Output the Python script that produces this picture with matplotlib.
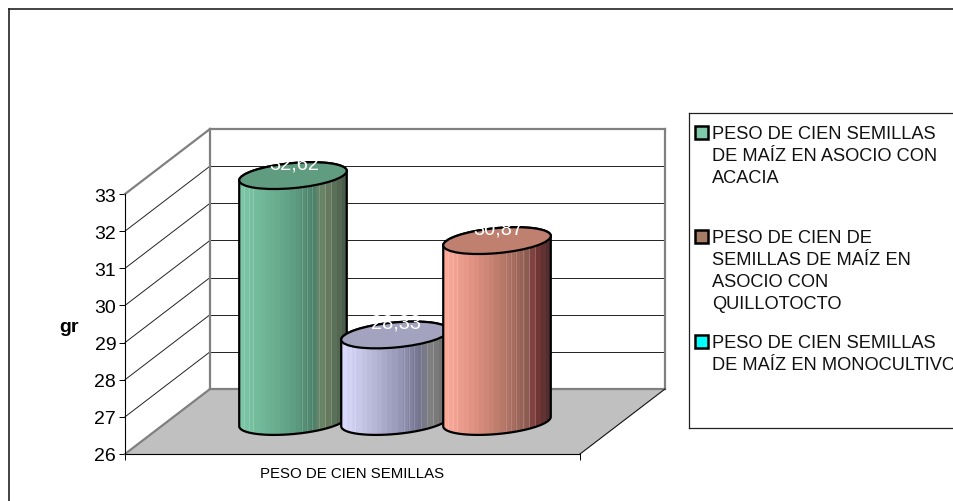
#!/usr/bin/env python3
"""Grafico 3D de cilindros: peso de cien semillas."""
import numpy as np
import matplotlib
matplotlib.use("Agg")
import matplotlib.pyplot as plt
from matplotlib.colors import LinearSegmentedColormap
from matplotlib.collections import PolyCollection
from matplotlib.lines import Line2D
from matplotlib.patches import Ellipse, PathPatch, Polygon, Rectangle
from matplotlib.path import Path
from matplotlib.transforms import IdentityTransform

plt.rcParams["font.family"] = ["Liberation Sans", "DejaVu Sans"]

category = "PESO DE CIEN SEMILLAS"
values = [32.62, 28.33, 30.87]
y_ticks = [26, 27, 28, 29, 30, 31, 32, 33]
y_label = "gr"
legend_labels = [
    "PESO DE CIEN SEMILLAS\nDE MAÍZ EN ASOCIO CON\nACACIA",
    "PESO DE CIEN DE\nSEMILLAS DE MAÍZ EN\nASOCIO CON\nQUILLOTOCTO",
    "PESO DE CIEN SEMILLAS\nDE MAÍZ EN MONOCULTIVO",
]
legend_colors = ["#7fc8a9", "#a67c67", "#00ffff"]

top_colors = ["#5f9c80", "#a3a3bf", "#bf8070"]
body_stops = [
    [(0, "#7cc9a8"), (0.25, "#6fb595"), (0.5, "#5e9e82"), (0.72, "#4a7d66"),
     (0.75, "#73896a"), (1, "#465a48")],
    [(0, "#dcdcff"), (0.3, "#b7b7d7"), (0.55, "#9595b5"), (0.72, "#73738f"),
     (0.85, "#808080"), (1, "#666666")],
    [(0, "#ffab9a"), (0.3, "#dd9080"), (0.55, "#b87868"), (0.8, "#8a5a50"),
     (0.85, "#7a3838"), (1, "#4a2c2c")],
]
light_stripes = [0.05, 0.09, 0.13, 0.58, 0.63, 0.68, 0.74, 0.8, 0.85]

W, H = 954, 502
DX, DY = 85, 65  # profundidad en px
SEMI_A, SEMI_B, TILT = 54, 12.5, 5.3
SPACING = 0.2242
N_BANDS = 21

fig = plt.figure(figsize=(W / 100, H / 100), dpi=100)
ax = fig.add_axes([125 / W, (H - 455) / H, 455 / W, 260 / H])
ax.set_xlim(0, 1)
ax.set_ylim(26, 33)
ax.patch.set_visible(False)
for side in ("top", "right"):
    ax.spines[side].set_visible(False)
for side in ("left", "bottom"):
    ax.spines[side].set_linewidth(0.8)
    ax.spines[side].set_zorder(30)
ax.set_yticks(y_ticks)
ax.set_xticks([0, 1], ["", ""])
ax.tick_params(axis="both", length=4.3, width=0.7, direction="out")
ax.tick_params(axis="y", labelsize=14, pad=2)
ax.set_xlabel(category, fontsize=10.8, labelpad=1)
ax.set_ylabel(y_label, fontsize=14, fontweight="bold", rotation=0, ha="center", va="center")
ax.yaxis.set_label_coords(-0.122, 0.492)

ident = IdentityTransform()


def proj(x, v, depth=0.0):
    px = ax.transData.transform((x, v))
    return px + depth * np.array([DX, DY])


def seg(p, q, **kw):
    ax.add_line(Line2D([p[0], q[0]], [p[1], q[1]], transform=ident, clip_on=False, **kw))


def ellipse_points(center, t):
    c, s = np.cos(np.radians(TILT)), np.sin(np.radians(TILT))
    ex, ey = SEMI_A * np.cos(t), SEMI_B * np.sin(t)
    return np.column_stack((center[0] + ex * c - ey * s, center[1] + ex * s + ey * c))


# suelo
floor = [proj(0, 26), proj(1, 26), proj(1, 26, 1), proj(0, 26, 1)]
ax.add_patch(Polygon(floor, closed=True, transform=ident, facecolor="#c0c0c0",
                     edgecolor="none", clip_on=False, zorder=1))

# rejilla en paredes
for v in y_ticks[1:-1]:
    seg(proj(0, v), proj(0, v, 1), color="#222222", lw=0.7, zorder=2)
    seg(proj(0, v, 1), proj(1, v, 1), color="#222222", lw=0.7, zorder=2)

# bordes de paredes
wall_kw = dict(color="#808080", lw=1.6, zorder=3, solid_capstyle="projecting")
seg(proj(0, 26), proj(0, 26, 1), **wall_kw)
seg(proj(0, 33), proj(0, 33, 1), **wall_kw)
seg(proj(0, 26, 1), proj(0, 33, 1), **wall_kw)
seg(proj(0, 33, 1), proj(1, 33, 1), **wall_kw)
seg(proj(1, 33, 1), proj(1, 26, 1), **wall_kw)
seg(proj(0, 26, 1), proj(1, 26, 1), **wall_kw)
seg(proj(1, 26), proj(1, 26, 1), color="#111111", lw=0.8, zorder=3)

# cilindros
for i, v in enumerate(values):
    x = 0.5 + (i - 1) * SPACING
    base = proj(x, 26, 0.5)
    top = proj(x, v, 0.5)
    z = 10 + 3 * i

    t_low = np.linspace(np.pi, 2 * np.pi, 60)
    t_up = np.linspace(0, np.pi, 60)
    outline = np.vstack((ellipse_points(base, t_low), ellipse_points(top, t_up)))
    clip = PathPatch(Path(np.vstack((outline, outline[:1])), closed=True),
                     transform=ident, facecolor="none", edgecolor="black",
                     lw=1.6, clip_on=False, zorder=z + 1, joinstyle="round")

    cmap = LinearSegmentedColormap.from_list(f"c{i}", body_stops[i])
    edges = np.linspace(base[0] - SEMI_A, base[0] + SEMI_A, N_BANDS + 1)
    y0, y1 = base[1] - 25, top[1] + 25
    strips = [[(a, y0), (b + 0.5, y0), (b + 0.5, y1), (a, y1)]
              for a, b in zip(edges[:-1], edges[1:])]
    bands = PolyCollection(strips, transform=ident, linewidths=0, zorder=z,
                           facecolors=cmap((np.arange(N_BANDS) + 0.5) / N_BANDS))
    ax.add_collection(bands, autolim=False)
    bands.set_clip_box(None)
    bands.set_clip_path(clip.get_path(), ident)

    for f in light_stripes:
        px = base[0] - SEMI_A + f * 2 * SEMI_A
        ln = Line2D([px, px], [y0, y1], transform=ident, color="white", lw=0.6,
                    alpha=0.2, zorder=z)
        ax.add_line(ln)
        ln.set_clip_box(None)
        ln.set_clip_path(clip.get_path(), ident)

    ax.add_patch(clip)
    ax.add_patch(Ellipse(top, 2 * SEMI_A, 2 * SEMI_B, angle=TILT, transform=ident,
                         facecolor=top_colors[i], edgecolor="black", lw=1.6,
                         clip_on=False, zorder=z + 2))

# etiquetas de datos
for i, v in enumerate(values):
    x = 0.5 + (i - 1) * SPACING
    top = proj(x, v, 0.5)
    ax.text(top[0] + 1, top[1] + 12.5, f"{v:.2f}".replace(".", ","), transform=ident,
            color="white", fontsize=14.4, ha="center", va="center", zorder=25)

# marco del grafico y leyenda
for a, b in [((9, 10), (W, 10)), ((9, 10), (9, H))]:
    fig.add_artist(Line2D([a[0], b[0]], [H - a[1], H - b[1]], transform=ident,
                          color="#222222", lw=1.2))
for a, b in [((689, 114), (W, 114)), ((689, 114), (689, 429)), ((689, 429), (W, 429))]:
    fig.add_artist(Line2D([a[0], b[0]], [H - a[1], H - b[1]], transform=ident,
                          color="#222222", lw=0.9))

legend_y = [133, 237, 342]
for label, color, ly in zip(legend_labels, legend_colors, legend_y):
    fig.add_artist(Rectangle((695, H - ly - 6.5), 13, 13, transform=ident,
                             facecolor=color, edgecolor="black", lw=1.8))
    fig.text(712 / W, (H - ly + 7) / H, label, fontsize=13.15, color="#111111",
             ha="left", va="top", linespacing=1.39)

fig.savefig("out.png", dpi=100)
